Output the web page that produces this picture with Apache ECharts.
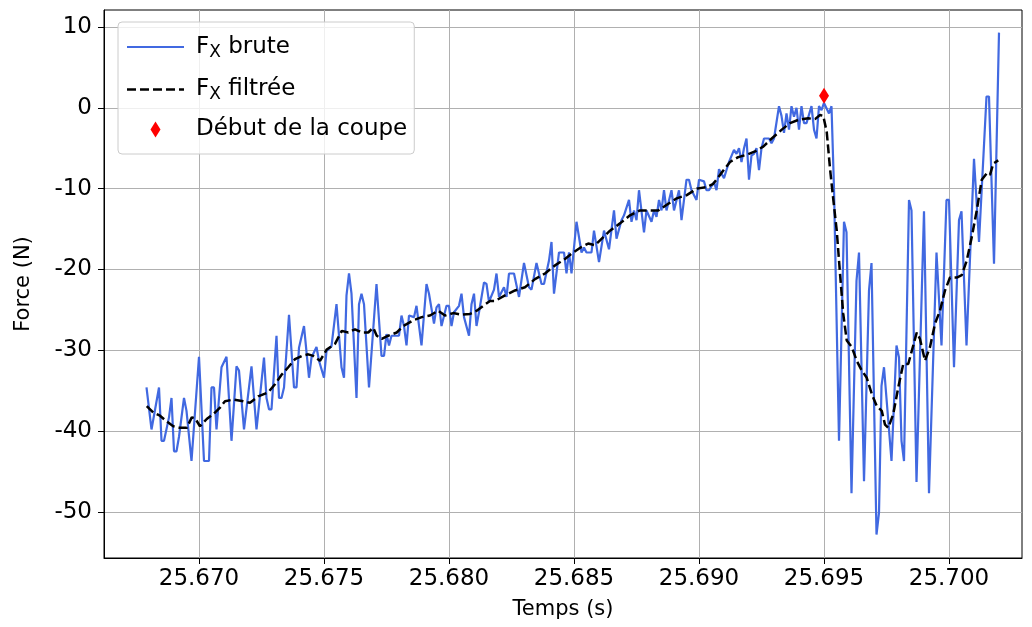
<!DOCTYPE html>
<html>
<head>
<meta charset="utf-8">
<title>Force Fx</title>
<script src="https://cdn.jsdelivr.net/npm/echarts@6/dist/echarts.min.js"></script>
<style>
  html, body { margin: 0; padding: 0; background: #ffffff; }
  #chart { width: 1032px; height: 627px; }
</style>
</head>
<body>
<div id="chart"></div>
<script>
// Raw force signal Fx (s, N)
const tBrute = [
  25.6679, 25.6681, 25.6684, 25.6685, 25.6686, 25.6688, 25.6689, 25.6690, 25.6691, 25.6692,
  25.6694, 25.6695, 25.6697, 25.6700, 25.6702, 25.6704, 25.6705, 25.6706, 25.6707, 25.6709,
  25.6711, 25.6713, 25.6715, 25.6716, 25.6718, 25.6721, 25.6723, 25.6726, 25.6727, 25.6728,
  25.6729, 25.6731, 25.6732, 25.6733, 25.6734, 25.6736, 25.6738, 25.6739, 25.6740, 25.6742,
  25.6744, 25.6745, 25.6747, 25.6748, 25.6750, 25.6751, 25.6753, 25.6755, 25.6757, 25.6758,
  25.6759, 25.6760, 25.6761, 25.6763, 25.6764, 25.6765, 25.6766, 25.6768, 25.6771, 25.6773,
  25.6774, 25.6775, 25.6776, 25.6777, 25.6780, 25.6781, 25.6782, 25.6783, 25.6784, 25.6786,
  25.6787, 25.6789, 25.6791, 25.6792, 25.6794, 25.6795, 25.6796, 25.6797, 25.6799, 25.6800,
  25.6801, 25.6802, 25.6804, 25.6805, 25.6806, 25.6808, 25.6809, 25.6810, 25.6811, 25.6812,
  25.6814, 25.6815, 25.6816, 25.6818, 25.6819, 25.6820, 25.6822, 25.6823, 25.6824, 25.6826,
  25.6828, 25.6830, 25.6832, 25.6833, 25.6835, 25.6836, 25.6837, 25.6838, 25.6840, 25.6841,
  25.6842, 25.6844, 25.6846, 25.6847, 25.6848, 25.6849, 25.6851, 25.6853, 25.6854, 25.6855,
  25.6857, 25.6858, 25.6860, 25.6862, 25.6864, 25.6866, 25.6867, 25.6869, 25.6870, 25.6872,
  25.6873, 25.6874, 25.6875, 25.6876, 25.6878, 25.6879, 25.6881, 25.6882, 25.6883, 25.6884,
  25.6885, 25.6886, 25.6887, 25.6889, 25.6890, 25.6892, 25.6893, 25.6895, 25.6896, 25.6897,
  25.6899, 25.6900, 25.6902, 25.6903, 25.6904, 25.6906, 25.6907, 25.6908, 25.6910, 25.6911,
  25.6912, 25.6914, 25.6915, 25.6916, 25.6917, 25.6918, 25.6919, 25.6920, 25.6921, 25.6922,
  25.6923, 25.6924, 25.6925, 25.6926, 25.6928, 25.6929, 25.6930, 25.6932, 25.6933, 25.6934,
  25.6935, 25.6936, 25.6937, 25.6938, 25.6939, 25.6940, 25.6941, 25.6942, 25.6943, 25.6945,
  25.6946, 25.6947, 25.6948, 25.6949, 25.6950, 25.6952, 25.6953, 25.6954, 25.6956, 25.6958,
  25.6959, 25.6961, 25.6963, 25.6964, 25.6966, 25.6968, 25.6969, 25.6971, 25.6972, 25.6973,
  25.6974, 25.6977, 25.6979, 25.6980, 25.6981, 25.6982, 25.6984, 25.6985, 25.6987, 25.6990,
  25.6992, 25.6995, 25.6997, 25.6999, 25.7000, 25.7002, 25.7004, 25.7005, 25.7007, 25.7010,
  25.7012, 25.7015, 25.7016, 25.7018, 25.7020
];
const fxBrute = [
  -34.6, -39.8, -34.6, -41.2, -41.2, -38.3, -35.9, -42.5, -42.5, -40.7,
  -35.9, -37.5, -43.7, -30.8, -43.7, -43.7, -34.6, -34.6, -39.8, -32.1,
  -30.8, -41.2, -32.0, -32.5, -39.8, -32.0, -39.8, -30.9, -35.9, -37.3,
  -37.3, -28.2, -35.9, -35.9, -34.6, -25.6, -34.6, -34.6, -29.7, -27.0,
  -33.4, -30.9, -29.6, -31.3, -33.4, -30.1, -29.5, -24.3, -32.1, -33.4,
  -23.2, -20.5, -23.0, -35.9, -24.3, -23.0, -24.3, -34.6, -21.8, -30.7,
  -30.7, -28.0, -29.4, -28.2, -28.2, -25.7, -27.0, -29.4, -25.7, -25.9,
  -24.5, -29.4, -21.8, -23.0, -26.7, -24.7, -24.3, -27.0, -24.5, -24.5,
  -27.0, -25.3, -24.5, -23.0, -25.9, -28.2, -24.3, -23.0, -27.0, -25.3,
  -21.6, -21.8, -24.0, -22.5, -20.5, -23.4, -22.2, -23.4, -20.5, -20.5,
  -23.4, -19.2, -22.2, -22.5, -19.2, -20.5, -21.8, -21.8, -18.9, -16.6,
  -23.0, -17.9, -17.9, -20.5, -17.9, -20.5, -14.1, -17.9, -17.3, -17.9,
  -17.9, -15.2, -19.1, -15.2, -17.5, -12.7, -16.2, -13.9, -13.3, -11.4,
  -14.1, -12.7, -13.9, -10.2, -15.4, -12.7, -14.1, -12.7, -13.5, -11.4,
  -12.7, -10.2, -12.7, -10.2, -12.7, -10.2, -13.9, -8.9, -8.9, -10.2,
  -11.4, -8.9, -9.1, -10.2, -10.2, -9.2, -10.2, -7.6, -8.7, -7.7,
  -6.7, -5.2, -5.7, -5.0, -6.7, -5.0, -3.8, -8.9, -5.9, -5.7,
  -5.0, -7.7, -5.0, -3.8, -3.8, -4.4, -3.8, 0.2, -1.0, -3.1,
  -0.7, -2.7, 0.2, -1.1, 0.0, -2.7, 0.2, -1.9, -1.9, 0.2,
  -2.7, -3.8, 0.2, -0.3, 0.6, -0.7, 0.2, -10.0, -41.2, -14.1,
  -15.4, -47.7, -21.4, -17.9, -46.2, -22.6, -19.2, -52.8, -50.1, -34.4,
  -32.1, -43.7, -29.4, -30.9, -41.2, -43.7, -11.4, -12.7, -46.3, -12.8,
  -47.7, -17.9, -29.4, -11.4, -11.4, -32.1, -13.9, -12.8, -29.4, -6.3,
  -16.6, 1.4, 1.4, -19.3, 9.3
];

// Filtered force signal Fx (s, N)
const tFiltre = [
  25.66791, 25.66817, 25.66844, 25.66871, 25.66897, 25.66924, 25.66951, 25.66971, 25.66984, 25.67004,
  25.67031, 25.67057, 25.67084, 25.67104, 25.67137, 25.67177, 25.67204, 25.67237, 25.67277, 25.67304,
  25.67331, 25.67357, 25.67384, 25.67411, 25.67437, 25.67457, 25.67484, 25.67511, 25.67544, 25.67571,
  25.67597, 25.67624, 25.67651, 25.67677, 25.67697, 25.67711, 25.67731, 25.67757, 25.67791, 25.67817,
  25.67857, 25.67891, 25.67924, 25.67957, 25.67984, 25.68017, 25.68051, 25.68084, 25.68111, 25.68137,
  25.68164, 25.68184, 25.68224, 25.68264, 25.68304, 25.68344, 25.68384, 25.68424, 25.68464, 25.68497,
  25.68531, 25.68557, 25.68584, 25.68604, 25.68644, 25.68684, 25.68724, 25.68764, 25.68804, 25.68837,
  25.68871, 25.68911, 25.68951, 25.68991, 25.69031, 25.69057, 25.69084, 25.69124, 25.69157, 25.69191,
  25.69224, 25.69257, 25.69291, 25.69331, 25.69364, 25.69397, 25.69437, 25.69464, 25.69484, 25.69497,
  25.69511, 25.69524, 25.69537, 25.69551, 25.69564, 25.69577, 25.69591, 25.69611, 25.69631, 25.69651,
  25.69671, 25.69691, 25.69711, 25.69731, 25.69744, 25.69757, 25.69777, 25.69797, 25.69817, 25.69837,
  25.69871, 25.69884, 25.69904, 25.69924, 25.69944, 25.69964, 25.69984, 25.70004, 25.70031, 25.70051,
  25.70071, 25.70091, 25.70111, 25.70131, 25.70151, 25.70164, 25.70177, 25.70197
];
const fxFiltre = [
  -36.9, -37.7, -38.1, -38.8, -39.4, -39.6, -39.6, -38.3, -38.4, -39.4,
  -38.5, -37.9, -37.1, -36.3, -36.1, -36.3, -36.5, -35.7, -35.2, -34.2,
  -33.0, -32.1, -31.1, -30.7, -30.5, -30.7, -31.3, -29.9, -29.2, -27.6,
  -27.8, -27.4, -27.8, -27.8, -27.2, -28.2, -28.6, -28.2, -27.8, -27.0,
  -26.3, -25.9, -25.7, -25.1, -25.7, -25.4, -25.6, -25.5, -25.1, -24.5,
  -23.9, -23.9, -23.2, -22.6, -22.2, -21.2, -20.5, -19.5, -18.7, -17.9,
  -17.2, -16.8, -17.0, -16.4, -15.2, -14.3, -13.3, -12.7, -12.7, -12.7,
  -12.0, -11.2, -10.8, -10.0, -9.8, -9.4, -8.3, -6.7, -6.1, -5.8,
  -5.4, -4.8, -3.8, -2.7, -1.9, -1.5, -1.3, -1.4, -0.9, -1.0,
  -3.0, -7.5, -11.3, -15.2, -20.5, -25.5, -28.8, -29.6, -31.3, -32.5,
  -33.4, -35.4, -36.9, -37.5, -39.2, -39.6, -37.9, -34.6, -31.7, -31.7,
  -27.8, -28.6, -31.3, -29.6, -26.7, -25.1, -22.6, -21.0, -21.0, -20.7,
  -18.9, -16.0, -12.7, -8.9, -8.1, -8.3, -6.9, -6.5
];

// Start of the cut (s, N)
const debutCoupe = [25.6950, 1.5];

// Axis ticks
const xTicks = [25.670, 25.675, 25.680, 25.685, 25.690, 25.695, 25.700];
const yTicks = [-50, -40, -30, -20, -10, 0, 10];

const FONT = 'DejaVu Sans';
const diamondPath = 'path://M5,0 L10,8 L5,16 L0,8 Z';
// legend keys: a solid stroke and a dashed stroke, 57 px long
const solidKey = 'path://M0,0 H57 V2.2 H0 Z';
const dashedKey = 'path://M0,0 H9 V2.5 H0 Z M13,0 H22 V2.5 H13 Z M26,0 H35 V2.5 H26 Z M39,0 H48 V2.5 H39 Z M52,0 H57 V2.5 H52 Z';

const zip = (xs, ys) => xs.map((x, i) => [x, ys[i]]);

const chart = echarts.init(document.getElementById('chart'), null, { renderer: 'canvas' });

const axisCommon = {
  type: 'value',
  nameLocation: 'middle',
  nameTextStyle: { fontFamily: FONT, fontSize: 21, color: '#000' },
  axisLine: { show: true, onZero: false, lineStyle: { color: '#000', width: 1 } },
  axisTick: { show: true, inside: false, length: 6, lineStyle: { color: '#000', width: 1 } },
  splitLine: { show: true, lineStyle: { color: '#b0b0b0', width: 1 } },
  axisLabel: { fontFamily: FONT, fontSize: 23, color: '#000', hideOverlap: false }
};

chart.setOption({
  animation: false,
  backgroundColor: '#ffffff',
  textStyle: { fontFamily: FONT },
  grid: {
    left: 104, right: 10, top: 10, bottom: 69,
    show: true, borderColor: '#000', borderWidth: 1, backgroundColor: 'transparent',
    containLabel: false, outerBoundsMode: 'none'
  },
  legend: {
    left: 118, top: 22,
    orient: 'vertical',
    itemWidth: 57, itemHeight: 16, itemGap: 14.5,
    padding: [11, 7, 13, 9],
    backgroundColor: 'rgba(255,255,255,0.8)',
    borderColor: '#cccccc', borderWidth: 1, borderRadius: 4,
    selectedMode: false,
    symbolKeepAspect: true,
    textStyle: {
      fontFamily: FONT, fontSize: 23, color: '#000',
      rich: {
        a: { fontFamily: FONT, fontSize: 23, lineHeight: 28, color: '#000', padding: [0, 0, 0, 7] },
        n: { fontFamily: FONT, fontSize: 23, lineHeight: 28, color: '#000' },
        s: { fontFamily: FONT, fontSize: 17, lineHeight: 17, color: '#000', padding: [11, 0, 0, 0] }
      }
    },
    formatter: function (name) {
      if (name.indexOf('Fx') === 0) {
        return '{a|F}{s|X}{n|' + name.slice(2) + '}';
      }
      return '{a|' + name + '}';
    },
    data: [
      { name: 'Fx brute', icon: solidKey, itemStyle: { color: '#4169e1', borderWidth: 0 } },
      { name: 'Fx filtrée', icon: dashedKey, itemStyle: { color: '#000000', borderWidth: 0 } },
      { name: 'Début de la coupe', icon: diamondPath, itemStyle: { color: '#ff0000', borderWidth: 0 } }
    ]
  },
  xAxis: Object.assign({}, axisCommon, {
    min: 25.6662, max: 25.70292, splitNumber: 7,
    name: 'Temps (s)', nameGap: 41,
    axisTick: Object.assign({}, axisCommon.axisTick, { customValues: xTicks }),
    axisLabel: Object.assign({}, axisCommon.axisLabel, {
      customValues: xTicks, margin: 10,
      formatter: v => Number(v).toFixed(3)
    })
  }),
  yAxis: Object.assign({}, axisCommon, {
    min: -55.7, max: 12.1, splitNumber: 5,
    name: 'Force (N)', nameGap: 70,
    axisTick: Object.assign({}, axisCommon.axisTick, { customValues: yTicks }),
    axisLabel: Object.assign({}, axisCommon.axisLabel, {
      customValues: yTicks, margin: 12,
      formatter: v => String(Math.round(v))
    })
  }),
  series: [
    {
      name: 'Fx brute',
      type: 'line',
      data: zip(tBrute, fxBrute),
      showSymbol: false,
      symbol: 'none',
      sampling: null,
      lineStyle: { color: '#4169e1', width: 2.2 },
      itemStyle: { color: '#4169e1' },
      z: 2
    },
    {
      name: 'Fx filtrée',
      type: 'line',
      data: zip(tFiltre, fxFiltre),
      showSymbol: false,
      symbol: 'none',
      smooth: false,
      lineStyle: { color: '#000000', width: 2.5, type: [9, 4] },
      itemStyle: { color: '#000000' },
      z: 3
    },
    {
      name: 'Début de la coupe',
      type: 'scatter',
      data: [debutCoupe],
      symbol: diamondPath,
      symbolSize: [10, 16],
      itemStyle: { color: '#ff0000', opacity: 1 },
      z: 4
    }
  ]
});
</script>
</body>
</html>
